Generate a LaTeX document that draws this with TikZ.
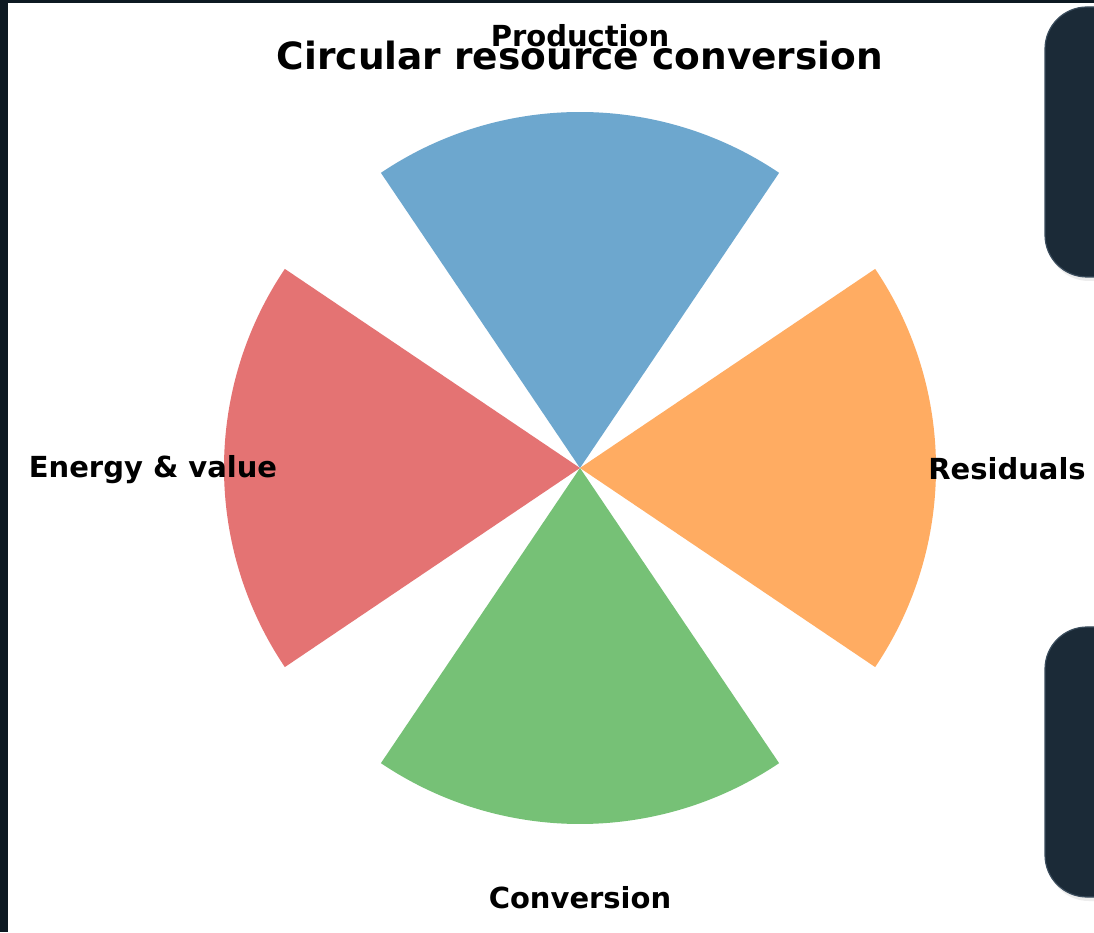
\documentclass[tikz,border=0pt]{standalone}
\usepackage{fontspec}
\setmainfont{DejaVu Sans}
\definecolor{frame}{HTML}{0D1922}
\definecolor{panel}{HTML}{1B2A37}
\definecolor{panelline}{HTML}{3A4C5C}
\definecolor{wblue}{HTML}{6DA7CE}
\definecolor{worange}{HTML}{FFAC62}
\definecolor{wgreen}{HTML}{76C176}
\definecolor{wred}{HTML}{E47373}
\tikzset{
    seglabel/.style={font=\bfseries\fontsize{29}{32}\selectfont, text=black, inner sep=0pt},
    panelbox/.style={fill=panel, draw=panelline, line width=1.2pt, rounded corners=42pt},
    panelshadow/.style={fill=black!7, rounded corners=42pt}
}
\begin{document}
\begin{tikzpicture}[x=1pt,y=1pt]
    \useasboundingbox (0,0) rectangle (1094,932);
    \clip (0,0) rectangle (1094,932);
    % dark frame and white canvas
    \fill[frame] (0,0) rectangle (1094,932);
    \fill[white] (8,0) rectangle (1094,929);
    % side panels
    \fill[panelshadow] (1047,651) rectangle (1142,922);
    \draw[panelbox] (1045,655) rectangle (1140,925);
    \fill[panelshadow] (1047,31) rectangle (1142,302);
    \draw[panelbox] (1045,35) rectangle (1140,305);
    % four wedges round the centre
    \coordinate (c) at (580,464);
    \foreach \col/\a in {wblue/90, worange/0, wgreen/270, wred/180} {
        \fill[\col] (c) -- ++(\a-34:356pt) arc[start angle=\a-34, end angle=\a+34, radius=356pt] -- cycle;
    }
    % labels
    \node[seglabel] (production) at (580,896) {Production};
    \node[seglabel] (residuals) at (1007,463) {Residuals};
    \node[seglabel] (conversion) at (580,34) {Conversion};
    \node[seglabel] (energy) at (153,462) {Energy \& value};
    \node[font=\bfseries\fontsize{37.5}{40}\selectfont, inner sep=0pt] (title) at (580,876) {Circular resource conversion};
\end{tikzpicture}
\end{document}
